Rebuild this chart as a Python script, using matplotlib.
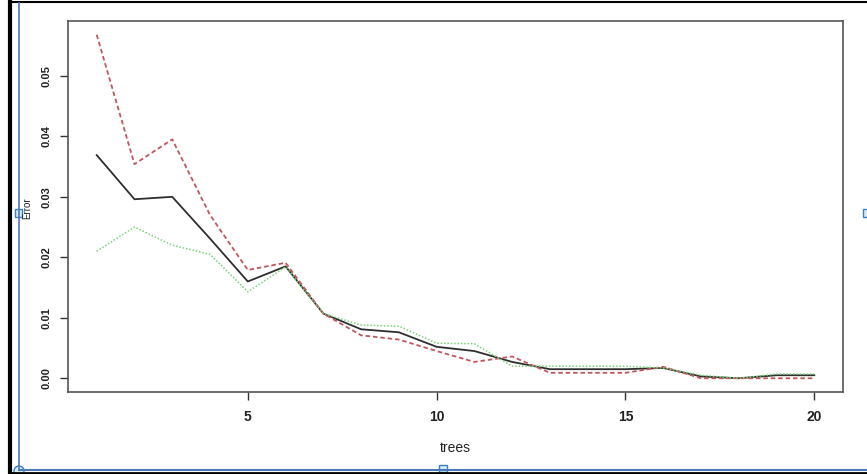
import matplotlib
matplotlib.use("Agg")
import matplotlib.pyplot as plt
from matplotlib.patches import Rectangle, Circle

trees = list(range(1, 21))
oob_error = [0.0369, 0.0296, 0.0300, 0.0231, 0.0160, 0.0185, 0.0107, 0.0081, 0.0076, 0.0052,
             0.0045, 0.0027, 0.0015, 0.0015, 0.0015, 0.0017, 0.0003, 0.0000, 0.0005, 0.0005]
class1_error = [0.0568, 0.0354, 0.0395, 0.0270, 0.0179, 0.0191, 0.0107, 0.0071, 0.0064, 0.0045,
                0.0027, 0.0036, 0.0009, 0.0009, 0.0009, 0.0019, 0.0000, 0.0000, 0.0000, 0.0000]
class2_error = [0.0210, 0.0250, 0.0220, 0.0205, 0.0143, 0.0184, 0.0107, 0.0088, 0.0086, 0.0058,
                0.0057, 0.0020, 0.0020, 0.0020, 0.0020, 0.0017, 0.0005, 0.0000, 0.0007, 0.0007]
x_ticks = [5, 10, 15, 20]
y_ticks = [0.00, 0.01, 0.02, 0.03, 0.04, 0.05]
y_tick_labels = ["0.00", "0.01", "0.02", "0.03", "0.04", "0.05"]

plt.rcParams['font.family'] = ['Liberation Sans', 'DejaVu Sans']

W, H = 867, 474
fig = plt.figure(figsize=(W / 100, H / 100), dpi=100)
fig.patch.set_facecolor("white")

# main axes
ax = fig.add_axes([68 / W, 1 - 392 / H, (843 - 68) / W, (392 - 21) / H])
ax.plot(trees, oob_error, color="#2e2e2e", lw=1.3, ls="-")
ax.plot(trees, class1_error, color="#c0575c", lw=1.3, ls=(0, (2.5, 1.6)))
ax.plot(trees, class2_error, color="#7ad37a", lw=1.1, ls=(0, (1, 1.2)))

xmin, xmax = min(trees), max(trees)
dx = (xmax - xmin) * 0.04
ax.set_xlim(xmin - dx, xmax + dx)
ymax = max(max(oob_error), max(class1_error), max(class2_error))
dy = ymax * 0.04
ax.set_ylim(-dy, ymax + dy)

ax.set_xticks(x_ticks)
ax.set_xticklabels([str(t) for t in x_ticks], fontsize=10, fontweight="bold", color="#222222")
ax.set_yticks(y_ticks)
ax.set_yticklabels(y_tick_labels, fontsize=8, fontweight="bold", rotation=90, va="center",
                   color="#222222")
ax.tick_params(axis="both", direction="out", length=6, width=1, color="#333333")
ax.tick_params(axis="x", pad=7)
ax.tick_params(axis="y", pad=6)
for s in ax.spines.values():
    s.set_color("#555555")
    s.set_linewidth(1.2)

ax.set_xlabel("trees", fontsize=10, color="#222222", labelpad=12)

# overlay for the screenshot frame and handles
ov = fig.add_axes([0, 0, 1, 1], zorder=10)
ov.set_xlim(0, W)
ov.set_ylim(H, 0)
ov.axis("off")
ov.patch.set_alpha(0)

# outer black frame
ov.plot([9.5, 9.5], [2, 473], color="black", lw=3)
ov.plot([9.5, W], [2, 2], color="black", lw=1.5)
ov.plot([9.5, W], [472.5, 472.5], color="black", lw=2)
# blue selection lines
ov.plot([19, 19], [3, 470], color="#4a78b8", lw=1.2)
ov.plot([19, W], [469.5, 469.5], color="#4a78b8", lw=1.5)

# "Error" label near the handle
ov.text(27, 208, "Error", rotation=90, fontsize=7, ha="center", va="center", color="#222222")

# handles
ov.add_patch(Rectangle((15, 209), 7, 8, facecolor="#d8ecf8", edgecolor="#3a7fc0", lw=1))
ov.add_patch(Circle((19, 471), 5, facecolor="#d8ecf8", edgecolor="#3a7fc0", lw=1))
ov.add_patch(Rectangle((439, 465), 8, 7, facecolor="#d8ecf8", edgecolor="#3a7fc0", lw=1))
ov.add_patch(Rectangle((863, 209), 7, 8, facecolor="#d8ecf8", edgecolor="#3a7fc0", lw=1))

fig.savefig("out.png", dpi=100, facecolor="white")
